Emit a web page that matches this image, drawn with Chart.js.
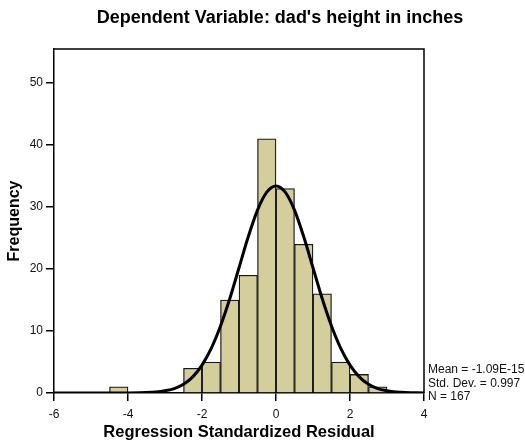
<!DOCTYPE html>
<html>
<head>
<meta charset="utf-8">
<script src="https://cdn.jsdelivr.net/npm/chart.js@4.4.1/dist/chart.umd.min.js"></script>
<style>
  html, body { margin: 0; padding: 0; background: #fff; }
  #wrap { position: relative; width: 525px; height: 443px; }
</style>
</head>
<body>
<div id="wrap"><canvas id="residChart"></canvas></div>
<script>
// Histogram bins (centre of each 0.5-wide bin) and counts
const binCenters = [-4.25, -2.25, -1.75, -1.25, -0.75, -0.25, 0.25, 0.75, 1.25, 1.75, 2.25, 2.75];
const binCounts  = [1, 4, 5, 15, 19, 41, 33, 24, 16, 5, 3, 1];

// Normal curve
const curveX = [-6, -5, -4.5, -4, -3.5, -3.25, -3, -2.75, -2.5, -2.25, -2, -1.75, -1.5, -1.25, -1, -0.75, -0.5, -0.25,
                0, 0.25, 0.5, 0.75, 1, 1.25, 1.5, 1.75, 2, 2.25, 2.5, 2.75, 3, 3.25, 3.5, 4];
const curveY = [0, 0, 0, 0.01, 0.07, 0.16, 0.36, 0.7, 1.4, 2.6, 4.5, 7.2, 10.8, 15.2, 20.2, 25.2, 29.5, 32.4,
                33.4, 32.4, 29.5, 25.2, 20.2, 15.2, 10.8, 7.2, 4.5, 2.6, 1.4, 0.7, 0.36, 0.16, 0.07, 0.01];

// Axis ticks
const xTicks = [-6, -4, -2, 0, 2, 4];
const yTicks = [0, 10, 20, 30, 40, 50];

const chartTitle = "Dependent Variable: dad's height in inches";
const statLines = ['Mean = -1.09E-15', 'Std. Dev. = 0.997', 'N = 167'];

const FONT = "'Liberation Sans', Arial, sans-serif";

/* --- frame, title and stats box --- */
const spssDecor = {
    id: 'spssDecor',
    afterDraw(chart) {
        const { ctx, chartArea } = chart;
        ctx.save();
        // top + right frame lines
        ctx.strokeStyle = '#000';
        ctx.lineWidth = 1.5;
        ctx.beginPath();
        ctx.moveTo(chartArea.left, chartArea.top);
        ctx.lineTo(chartArea.right, chartArea.top);
        ctx.lineTo(chartArea.right, chartArea.bottom);
        ctx.stroke();

        // chart title
        ctx.fillStyle = '#000';
        ctx.font = 'bold 18px ' + FONT;
        ctx.textAlign = 'center';
        ctx.textBaseline = 'middle';
        ctx.fillText(chartTitle, 280, 18);

        // stats
        ctx.font = '12px ' + FONT;
        ctx.fillStyle = '#111';
        ctx.textAlign = 'left';
        statLines.forEach((t, i) => {
            ctx.fillText(t, chartArea.right + 4, chartArea.bottom - 23 + i * 13.5);
        });
        ctx.restore();
    }
};

new Chart(document.getElementById('residChart'), {
    type: 'bar',
    data: {
        datasets: [{
            type: 'line',
            data: curveX.map((x, i) => ({ x: x, y: curveY[i] })),
            borderColor: '#000',
            borderWidth: 3,
            pointRadius: 0,
            cubicInterpolationMode: 'monotone',
            fill: false,
            order: 0
        }, {
            type: 'bar',
            data: binCenters.map((x, i) => ({ x: x, y: binCounts[i] })),
            backgroundColor: '#d3ce9b',
            borderColor: '#1a1a1a',
            borderWidth: 1.3,
            barPercentage: 1,
            categoryPercentage: 1,
            order: 1
        }]
    },
    options: {
        responsive: true,
        maintainAspectRatio: false,
        animation: false,
        layout: { padding: { top: 49, right: 101, left: 0, bottom: 0 } },
        plugins: {
            legend: { display: false },
            tooltip: { enabled: false }
        },
        scales: {
            x: {
                type: 'linear',
                min: -6,
                max: 4,
                offset: false,
                afterBuildTicks: (s) => { s.ticks = xTicks.map(v => ({ value: v })); },
                afterFit: (s) => { s.height = 50; },
                grid: { drawOnChartArea: false, offset: false, tickLength: 8, color: '#000', lineWidth: 1.5 },
                border: { color: '#000', width: 1.5 },
                ticks: { color: '#111', font: { family: FONT, size: 12 }, padding: 6, maxRotation: 0 },
                title: {
                    display: true,
                    text: 'Regression Standardized Residual',
                    color: '#000',
                    font: { family: FONT, size: 16.5, weight: 'bold' },
                    padding: { top: 0, bottom: 1 }
                }
            },
            y: {
                min: 0,
                max: 55.5,
                afterBuildTicks: (s) => { s.ticks = yTicks.map(v => ({ value: v })); },
                afterFit: (s) => { s.width = 54; },
                grid: { drawOnChartArea: false, tickLength: 8, color: '#000', lineWidth: 1.5 },
                border: { color: '#000', width: 1.5 },
                ticks: { color: '#111', font: { family: FONT, size: 12 }, padding: 3 },
                title: {
                    display: true,
                    text: 'Frequency',
                    color: '#000',
                    font: { family: FONT, size: 16, weight: 'bold' },
                    padding: { top: 5, bottom: 0 }
                }
            }
        }
    },
    plugins: [spssDecor]
});
</script>
</body>
</html>
